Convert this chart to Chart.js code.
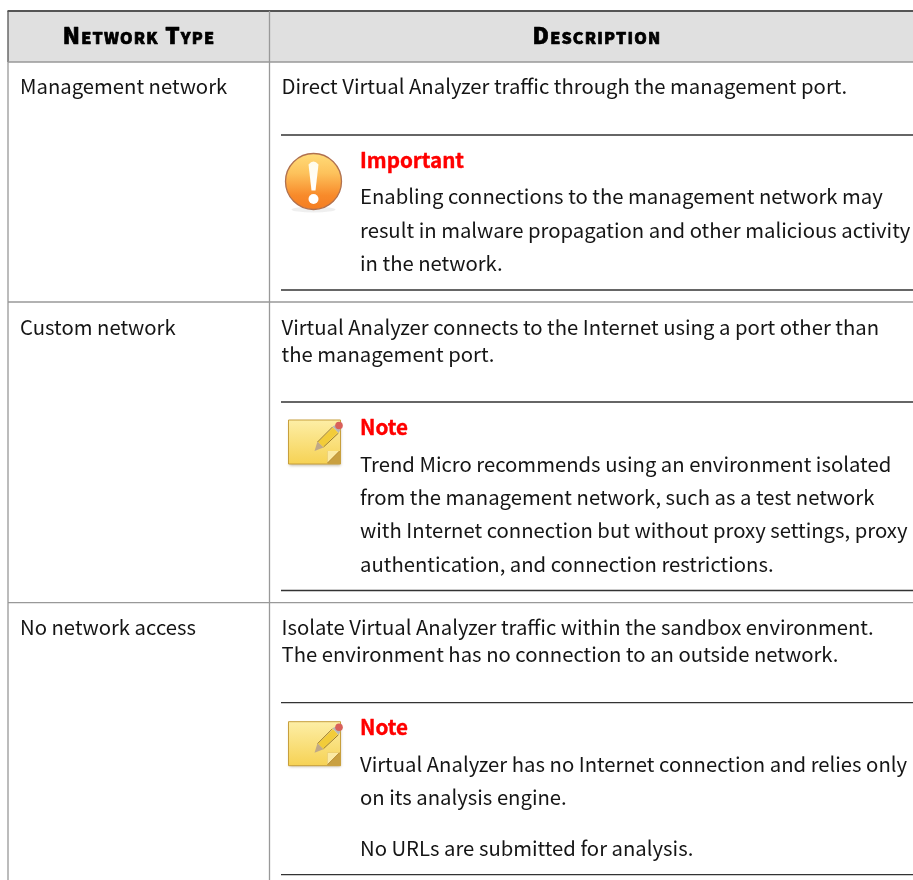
<!DOCTYPE html>
<html>
<head>
<meta charset="utf-8">
<title>Network types</title>
<script src="https://cdn.jsdelivr.net/npm/chart.js@4/dist/chart.umd.min.js"></script>
<style>
    html, body { margin: 0; padding: 0; background: #fff; overflow: hidden; }
    canvas { display: block; }
</style>
</head>
<body>
<canvas id="myChart" width="913" height="880"></canvas>
<script>
// table content
const headers = ['Network Type', 'Description'];
const networkTypes = ['Management network', 'Custom network', 'No network access'];
const descriptionLines = [
    'Direct Virtual Analyzer traffic through the management port.',
    'Virtual Analyzer connects to the Internet using a port other than',
    'the management port.',
    'Isolate Virtual Analyzer traffic within the sandbox environment.',
    'The environment has no connection to an outside network.'
];
const calloutTitles = ['Important', 'Note', 'Note'];
const calloutLines = [
    'Enabling connections to the management network may',
    'result in malware propagation and other malicious activity',
    'in the network.',
    'Trend Micro recommends using an environment isolated',
    'from the management network, such as a test network',
    'with Internet connection but without proxy settings, proxy',
    'authentication, and connection restrictions.',
    'Virtual Analyzer has no Internet connection and relies only',
    'on its analysis engine.',
    'No URLs are submitted for analysis.'
];

// layout, in page pixels (the axes run 0-913 and 0-880)
const headerCenters = [139, 597];
const typeBaselines = [94, 335, 635];
const descriptionBaselines = [94, 335, 362, 635, 662];
const titleBaselines = [168, 435, 735];
const calloutBaselines = [204, 238, 271, 472, 505, 538, 572, 772, 805, 856];
const rowRules = [62, 302, 602.7];
const calloutRules = [135, 290, 402, 590.5, 702.7, 874.7];
const iconTops = [420, 721.7];

const FONT = '"Noto Sans CJK SC"';

function rule(x1, y1, x2, y2, color, width) {
    return {
        type: 'line',
        data: [{x: x1, y: y1}, {x: x2, y: y2}],
        borderColor: color,
        borderWidth: width,
        pointRadius: 0,
        parsing: false
    };
}

const datasets = [];
rowRules.forEach(y => datasets.push(rule(8, y, 913, y, '#999999', 1.3)));
calloutRules.forEach(y => datasets.push(rule(281, y, 913, y, '#333333', 1.3)));
datasets.push(rule(8, 62, 8, 880, '#999999', 1.3));
datasets.push(rule(8, 11, 8, 62, '#555555', 1.3));
datasets.push(rule(269.5, 11, 269.5, 880, '#999999', 1.3));
datasets.push(rule(7.5, 11, 913, 11, '#555555', 2));

function drawImportant(ctx, cx, cy) {
    ctx.save();
    ctx.beginPath();
    ctx.ellipse(cx, cy + 28, 22, 3, 0, 0, Math.PI * 2);
    ctx.fillStyle = 'rgba(120,120,120,0.12)';
    ctx.fill();
    const fill = ctx.createLinearGradient(0, cy - 28, 0, cy + 28);
    fill.addColorStop(0, '#ffdc78');
    fill.addColorStop(0.35, '#fdc25c');
    fill.addColorStop(0.75, '#f88a2a');
    fill.addColorStop(1, '#f47d22');
    ctx.beginPath();
    ctx.arc(cx, cy, 28, 0, Math.PI * 2);
    ctx.fillStyle = fill;
    ctx.fill();
    ctx.lineWidth = 1.3;
    ctx.strokeStyle = '#b0714f';
    ctx.stroke();
    const mark = ctx.createLinearGradient(0, cy - 22, 0, cy + 10);
    mark.addColorStop(0, '#fffbe8');
    mark.addColorStop(1, '#ffffff');
    ctx.fillStyle = mark;
    ctx.beginPath();
    ctx.moveTo(cx - 5, cy - 17);
    ctx.quadraticCurveTo(cx, cy - 23, cx + 5, cy - 17);
    ctx.lineTo(cx + 2, cy + 9);
    ctx.lineTo(cx - 2, cy + 9);
    ctx.closePath();
    ctx.fill();
    ctx.fillStyle = '#fff';
    ctx.beginPath();
    ctx.arc(cx, cy + 17.5, 5, 0, Math.PI * 2);
    ctx.fill();
    ctx.restore();
}

function drawNote(ctx, x, y) {
    const w = 52, h = 44;
    ctx.save();
    ctx.shadowColor = 'rgba(90,70,20,0.4)';
    ctx.shadowBlur = 3;
    ctx.shadowOffsetY = 1.5;
    const paper = ctx.createLinearGradient(0, y, 0, y + h);
    paper.addColorStop(0, '#fdeea6');
    paper.addColorStop(1, '#f6d254');
    ctx.beginPath();
    ctx.rect(x, y, w, h);
    ctx.fillStyle = paper;
    ctx.fill();
    ctx.shadowColor = 'transparent';
    ctx.lineWidth = 1;
    ctx.strokeStyle = '#c79f3c';
    ctx.stroke();
    // folded corner
    ctx.beginPath();
    ctx.rect(x + w - 13, y + h - 13, 13, 13);
    ctx.fillStyle = '#c9a040';
    ctx.fill();
    ctx.beginPath();
    ctx.moveTo(x + w - 1, y + h - 13);
    ctx.lineTo(x + w - 13, y + h - 13);
    ctx.lineTo(x + w - 13, y + h - 1);
    ctx.closePath();
    ctx.fillStyle = '#fbeaa4';
    ctx.fill();
    ctx.strokeStyle = '#b8892c';
    ctx.beginPath();
    ctx.moveTo(x + w - 1, y + h - 13);
    ctx.lineTo(x + w - 13, y + h - 1);
    ctx.stroke();
    // pencil
    const bx = x + 26, by = y + 31, ex = x + 52, ey = y + 5;
    ctx.lineCap = 'butt';
    ctx.lineWidth = 7;
    ctx.strokeStyle = '#f2cc3a';
    ctx.beginPath();
    ctx.moveTo(bx + 6, by - 6.5);
    ctx.lineTo(ex - 5, ey + 5);
    ctx.stroke();
    ctx.lineWidth = 1;
    ctx.strokeStyle = '#9a7a2a';
    ctx.beginPath();
    ctx.moveTo(bx + 3, by - 9);
    ctx.lineTo(ex - 8, ey + 2);
    ctx.moveTo(bx + 9, by - 4);
    ctx.lineTo(ex - 2, ey + 8);
    ctx.stroke();
    ctx.fillStyle = '#bfa888';
    ctx.beginPath();
    ctx.moveTo(bx, by);
    ctx.lineTo(bx + 3, by - 9.5);
    ctx.lineTo(bx + 9, by - 3.5);
    ctx.closePath();
    ctx.fill();
    ctx.fillStyle = '#b8b8b8';
    ctx.beginPath();
    ctx.moveTo(ex - 8, ey + 1.5);
    ctx.lineTo(ex - 2, ey + 8);
    ctx.lineTo(ex, ey + 5);
    ctx.lineTo(ex - 5, ey);
    ctx.closePath();
    ctx.fill();
    ctx.fillStyle = '#d9605a';
    ctx.beginPath();
    ctx.arc(ex - 1.5, ey + 0.5, 3.8, 0, Math.PI * 2);
    ctx.fill();
    ctx.restore();
}

const tablePlugin = {
    id: 'tablePlugin',
    beforeDatasetsDraw(chart) {
        const ctx = chart.ctx, sx = chart.scales.x, sy = chart.scales.y;
        ctx.save();
        ctx.fillStyle = '#e0e0e0';
        ctx.fillRect(sx.getPixelForValue(8), sy.getPixelForValue(11), sx.getPixelForValue(913) - sx.getPixelForValue(8), sy.getPixelForValue(62) - sy.getPixelForValue(11));
        ctx.restore();
    },
    afterDatasetsDraw(chart) {
        const ctx = chart.ctx, sx = chart.scales.x, sy = chart.scales.y;
        ctx.save();
        ctx.textBaseline = 'alphabetic';

        // no black weight in the font, so thicken the bold a bit
        ctx.fillStyle = '#000';
        ctx.strokeStyle = '#000';
        ctx.lineWidth = 0.7;
        ctx.lineJoin = 'round';
        ctx.textAlign = 'center';
        ctx.font = 'small-caps 900 22.5px ' + FONT;
        ctx.letterSpacing = '1.2px';
        headers.forEach((h, i) => {
            ctx.fillText(h, sx.getPixelForValue(headerCenters[i]), sy.getPixelForValue(44));
            ctx.strokeText(h, sx.getPixelForValue(headerCenters[i]), sy.getPixelForValue(44));
        });
        ctx.letterSpacing = '0px';

        ctx.textAlign = 'left';
        ctx.font = '20.3px ' + FONT;
        ctx.fillStyle = '#151515';
        networkTypes.forEach((t, i) => ctx.fillText(t, sx.getPixelForValue(20), sy.getPixelForValue(typeBaselines[i])));
        descriptionLines.forEach((t, i) => ctx.fillText(t, sx.getPixelForValue(281.5), sy.getPixelForValue(descriptionBaselines[i])));
        calloutLines.forEach((t, i) => ctx.fillText(t, sx.getPixelForValue(360), sy.getPixelForValue(calloutBaselines[i])));

        ctx.font = '700 20.6px ' + FONT;
        ctx.fillStyle = '#ff0000';
        ctx.strokeStyle = '#ff0000';
        ctx.lineWidth = 0.4;
        calloutTitles.forEach((t, i) => {
            ctx.fillText(t, sx.getPixelForValue(360), sy.getPixelForValue(titleBaselines[i]));
            ctx.strokeText(t, sx.getPixelForValue(360), sy.getPixelForValue(titleBaselines[i]));
        });
        ctx.restore();

        drawImportant(ctx, sx.getPixelForValue(313.5), sy.getPixelForValue(181.5));
        iconTops.forEach(y => drawNote(ctx, sx.getPixelForValue(288.5), sy.getPixelForValue(y)));
    }
};

new Chart(document.getElementById('myChart').getContext('2d'), {
    type: 'scatter',
    data: {datasets: datasets},
    plugins: [tablePlugin],
    options: {
        responsive: false,
        animation: false,
        layout: {padding: 0},
        plugins: {legend: {display: false}, tooltip: {enabled: false}},
        scales: {
            x: {type: 'linear', min: 0, max: 913, display: false},
            y: {type: 'linear', min: 0, max: 880, reverse: true, display: false}
        }
    }
});
</script>
</body>
</html>
